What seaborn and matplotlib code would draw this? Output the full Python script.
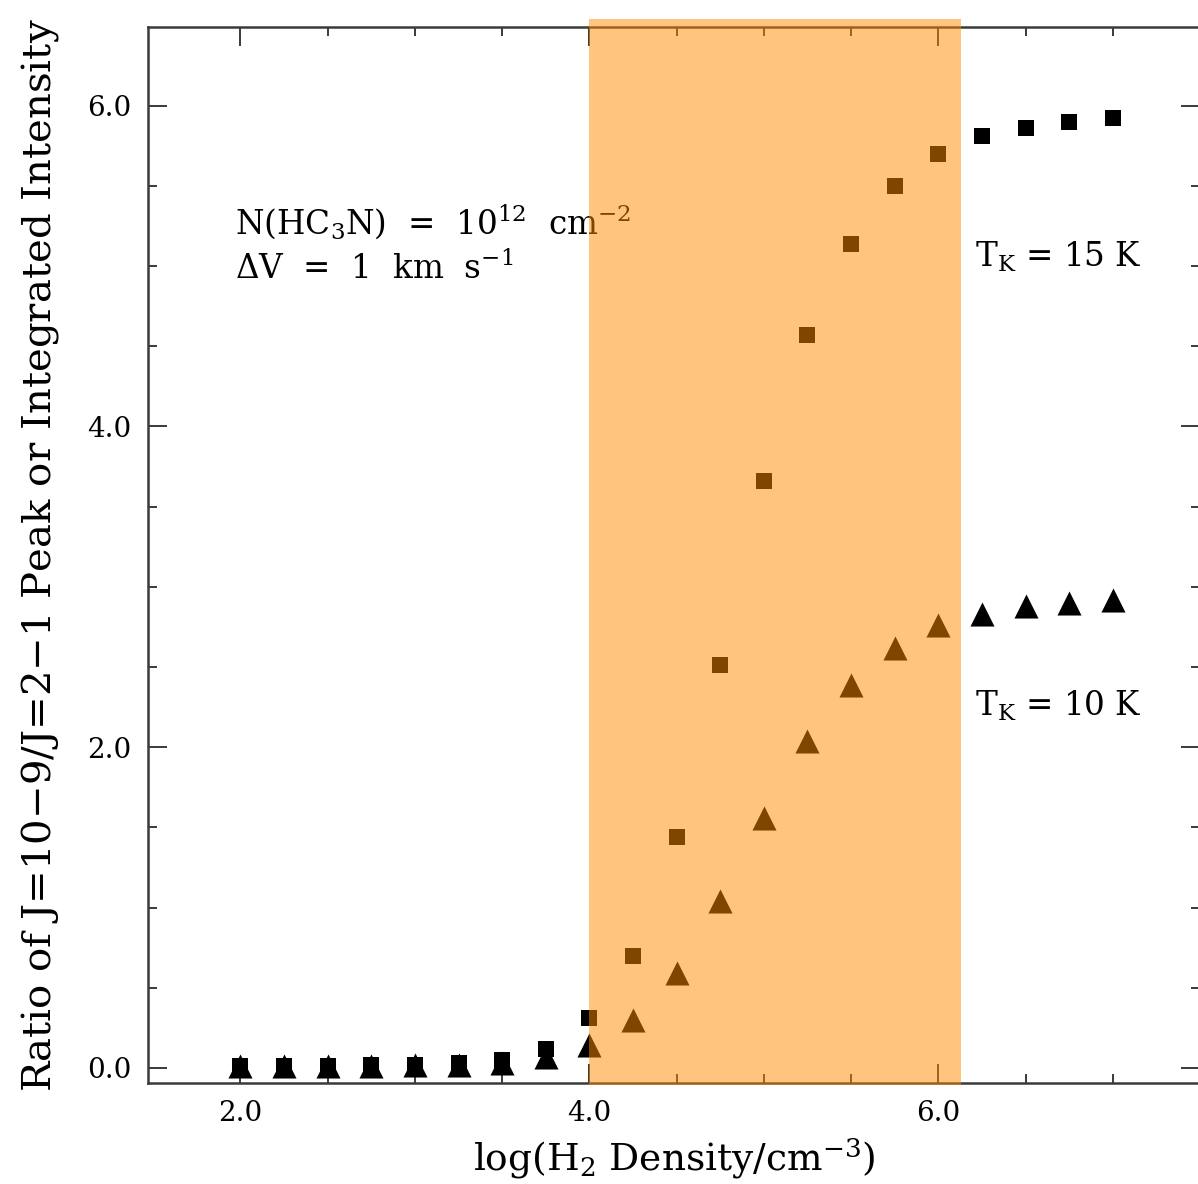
import numpy as np
import pandas as pd
import matplotlib
matplotlib.use("Agg")
import matplotlib.pyplot as plt
import seaborn as sns
from matplotlib.patches import Rectangle
from matplotlib.transforms import blended_transform_factory
from matplotlib.ticker import FixedLocator, FormatStrFormatter

# log10 of H2 density (cm^-3)
log_density = [2.0, 2.25, 2.5, 2.75, 3.0, 3.25, 3.5, 3.75, 4.0, 4.25, 4.5,
               4.75, 5.0, 5.25, 5.5, 5.75, 6.0, 6.25, 6.5, 6.75, 7.0]

# J=10-9 / J=2-1 intensity ratio for two kinetic temperatures
ratio_15K = [0.01, 0.01, 0.01, 0.02, 0.02, 0.03, 0.05, 0.12, 0.31, 0.70, 1.44,
             2.51, 3.66, 4.57, 5.14, 5.50, 5.70, 5.81, 5.86, 5.90, 5.92]
ratio_10K = [0.01, 0.01, 0.01, 0.01, 0.02, 0.02, 0.03, 0.07, 0.14, 0.30, 0.59,
             1.04, 1.56, 2.04, 2.39, 2.62, 2.76, 2.83, 2.88, 2.90, 2.92]

# highlighted density range
band_range = [4.0, 6.13]

x_ticks = [2.0, 4.0, 6.0]
y_ticks = [0.0, 2.0, 4.0, 6.0]
x_minor = [2.5, 3.0, 3.5, 4.5, 5.0, 5.5, 6.5, 7.0]
y_minor = [0.5, 1.0, 1.5, 2.5, 3.0, 3.5, 4.5, 5.0, 5.5]

df = pd.DataFrame({
    "logn": log_density * 2,
    "ratio": ratio_15K + ratio_10K,
    "tk": ["15 K"] * len(log_density) + ["10 K"] * len(log_density),
})

sns.set_theme(style="white")
plt.rcParams["font.family"] = ["DejaVu Serif"]
plt.rcParams["mathtext.fontset"] = "dejavuserif"
plt.rcParams["text.color"] = "black"
plt.rcParams["axes.labelcolor"] = "black"
plt.rcParams["xtick.color"] = "black"
plt.rcParams["ytick.color"] = "black"

W, H = 1198, 1184
fig = plt.figure(figsize=(W / 100, H / 100), dpi=100)
left, right, top, bottom = 148, 1200, 27, 1083
ax = fig.add_axes([left / W, 1 - bottom / H, (right - left) / W, (bottom - top) / H])

sns.scatterplot(data=df[df.tk == "15 K"], x="logn", y="ratio", marker="s",
                s=125, color="black", linewidth=0, ax=ax, zorder=3)
sns.scatterplot(data=df[df.tk == "10 K"], x="logn", y="ratio", marker="^",
                s=300, color="black", linewidth=0, ax=ax, zorder=4)

ax.set_xlim(1.47, 7.5)
ax.set_ylim(-0.094, 6.49)

ax.set_xticks(x_ticks)
ax.set_yticks(y_ticks)
ax.xaxis.set_minor_locator(FixedLocator(x_minor))
ax.yaxis.set_minor_locator(FixedLocator(y_minor))
ax.xaxis.set_major_formatter(FormatStrFormatter("%.1f"))
ax.yaxis.set_major_formatter(FormatStrFormatter("%.1f"))

spine_col = "#3a3a3a"
for sp in ax.spines.values():
    sp.set_visible(True)
    sp.set_color(spine_col)
    sp.set_linewidth(1.8)

ax.tick_params(which="both", direction="in", top=True, right=True,
               bottom=True, left=True, color=spine_col, width=1.4)
ax.tick_params(which="major", length=13.5, labelsize=20, pad=12,
               labelcolor="black")
ax.tick_params(which="minor", length=6.5)

ax.set_xlabel(r"log(H$_2$ Density/cm$^{-3}$)", fontsize=27, labelpad=7)
ax.set_ylabel(r"Ratio of J=10$-$9/J=2$-$1 Peak or Integrated Intensity",
              fontsize=29, labelpad=19)

ax.text(1.97, 5.28, r"N(HC$_3$N)  =  10$^{12}$  cm$^{-2}$", fontsize=23.5,
        va="center", ha="left")
ax.text(1.97, 4.98, r"$\Delta$V  =  1  km  s$^{-1}$", fontsize=23.5,
        va="center", ha="left")
ax.text(6.21, 5.06, r"T$_\mathrm{K}$ = 15 K", fontsize=23.5,
        va="center", ha="left")
ax.text(6.21, 2.26, r"T$_\mathrm{K}$ = 10 K", fontsize=23.5,
        va="center", ha="left")

# translucent orange band drawn over markers, spines and ticks
trans = blended_transform_factory(ax.transData, ax.transAxes)
band = Rectangle((band_range[0], -0.002), band_range[1] - band_range[0], 1.01,
                 transform=trans, facecolor=(1.0, 0.55, 0.0), alpha=0.5,
                 edgecolor="none", zorder=10)
fig.add_artist(band)

fig.savefig("out.png", dpi=100)
